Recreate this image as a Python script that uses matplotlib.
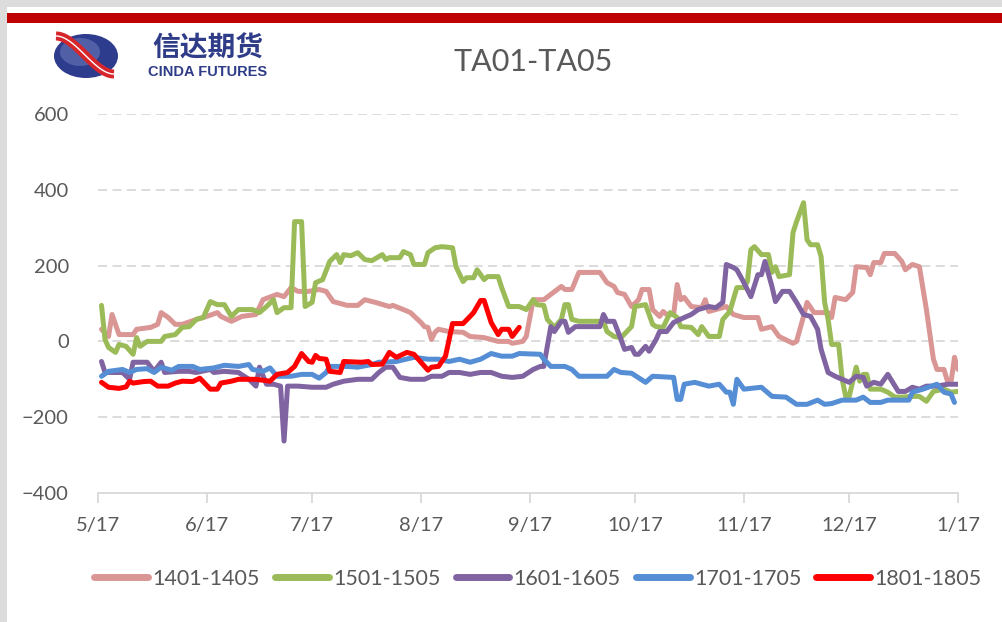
import numpy as np
import pandas as pd
import matplotlib
matplotlib.use("Agg")
import matplotlib.pyplot as plt
import matplotlib.patches as mpatches
import matplotlib.dates as mdates

# days counted from 5/17
d1401 = [1, 3, 4, 6, 10, 11, 15, 17, 18, 20, 22, 24, 28, 31, 34, 35, 38, 41, 45, 47, 51, 53, 55, 57, 60, 63, 65, 67,
         71, 74, 76, 79, 83, 84, 87, 89, 92, 93, 94, 95, 96, 97, 100, 104, 106, 110, 114, 117, 118, 121, 122, 124,
         127, 132, 133, 135, 137, 143, 145, 147, 148, 150, 152, 154, 155, 157, 158, 160, 161, 162, 164, 165, 166,
         167, 169, 172, 173, 174, 176, 179, 181, 184, 188, 189, 192, 194, 198, 199, 201, 202, 204, 208, 209, 210,
         213, 215, 216, 219, 220, 221, 223, 224, 227, 229, 230, 232, 234, 236, 238, 239, 241, 242, 243, 244, 245]
v1401 = [32, 13, 71, 18, 18, 32, 37, 45, 76, 63, 45, 45, 58, 66, 76, 66, 53, 66, 71, 110, 124, 118, 142, 132, 132,
         137, 132, 105, 95, 95, 110, 103, 92, 95, 84, 76, 50, 39, 37, 5, 24, 32, 26, 24, 13, 10, 0, 0, -5, 0, 13, 110,
         110, 145, 137, 137, 182, 182, 155, 145, 129, 124, 92, 110, 137, 137, 84, 66, 79, 71, 71, 150, 110, 116, 92,
         89, 110, 79, 84, 92, 71, 63, 63, 32, 39, 13, -5, 0, 66, 103, 76, 76, 63, 116, 110, 129, 197, 195, 176, 208,
         208, 232, 232, 211, 189, 203, 197, 84, -47, -74, -74, -105, -108, -42, -74]

d1501 = [1, 2, 3, 5, 6, 8, 10, 11, 12, 14, 18, 19, 22, 24, 26, 28, 30, 32, 34, 36, 38, 40, 44, 46, 48, 50, 51, 53,
         55, 56, 58, 59, 61, 62, 64, 66, 68, 69, 70, 72, 74, 76, 78, 81, 82, 83, 86, 87, 89, 90, 93, 94, 96, 98, 101,
         102, 104, 105, 107, 108, 110, 111, 114, 115, 117, 120, 122, 124, 125, 127, 128, 130, 132, 133, 134, 135,
         137, 144, 145, 147, 149, 152, 153, 156, 158, 159, 161, 163, 165, 166, 169, 171, 172, 174, 177, 178, 180,
         182, 184, 185, 186, 187, 189, 191, 192, 193, 194, 197, 198, 199, 201, 202, 203, 205, 206, 207, 208, 209,
         211, 212, 213, 214, 216, 217, 218, 219, 220, 223, 225, 227, 229, 232, 234, 236, 238, 241, 243, 245]
v1501 = [95, 5, -16, -29, -8, -13, -34, 10, -13, 0, 0, 13, 18, 37, 39, 58, 63, 105, 97, 97, 66, 84, 84, 76, 92, 110,
         76, 89, 89, 316, 316, 92, 103, 155, 163, 211, 229, 208, 229, 226, 234, 216, 213, 229, 216, 221, 221, 237,
         229, 203, 203, 234, 247, 250, 247, 197, 158, 168, 168, 189, 163, 171, 171, 142, 92, 92, 84, 110, 97, 95, 58,
         37, 58, 97, 97, 58, 53, 53, 26, 13, 10, 39, 92, 97, 45, 39, 37, 76, 63, 39, 37, 18, 39, 13, 13, 58, 79, 142,
         142, 158, 242, 250, 229, 229, 182, 197, 171, 176, 287, 316, 366, 268, 255, 255, 224, 103, 58, -8, -8, -100,
         -145, -145, -68, -105, -87, -87, -126, -126, -134, -147, -147, -145, -145, -158, -132, -126, -134, -132]

d1601 = [1, 2, 7, 9, 10, 14, 16, 18, 19, 23, 26, 28, 32, 33, 36, 40, 43, 45, 46, 48, 50, 52, 53, 54, 57, 61, 65, 67,
         70, 74, 78, 80, 82, 84, 86, 89, 93, 95, 98, 100, 103, 106, 109, 112, 115, 118, 121, 124, 126, 127, 128, 129,
         130, 132, 133, 134, 136, 143, 144, 145, 147, 149, 150, 152, 153, 154, 156, 157, 159, 160, 162, 164, 167,
         169, 171, 174, 176, 178, 179, 181, 182, 184, 186, 188, 189, 190, 192, 193, 195, 197, 199, 201, 203, 205,
         206, 208, 210, 212, 214, 216, 218, 219, 221, 223, 225, 228, 230, 232, 234, 236, 239, 242, 245]
v1601 = [-53, -82, -82, -100, -55, -55, -79, -55, -82, -79, -79, -82, -74, -82, -79, -82, -100, -118, -68, -113,
         -113, -118, -263, -118, -118, -121, -121, -113, -105, -100, -100, -82, -68, -68, -95, -100, -100, -92, -92,
         -82, -82, -87, -82, -82, -92, -95, -92, -74, -66, -66, -13, 39, 26, 53, 53, 24, 39, 39, 71, 53, 53, 5, -21,
         -16, -34, -34, -13, -26, 5, 26, 26, 50, 63, 71, 84, 92, 89, 103, 203, 195, 189, 155, 118, 176, 176, 211,
         145, 105, 132, 132, 103, 71, 66, 32, -21, -82, -92, -100, -108, -92, -95, -118, -108, -113, -87, -132,
         -132, -121, -126, -118, -118, -113, -113]

d1701 = [1, 3, 7, 9, 11, 14, 16, 18, 21, 23, 27, 29, 33, 36, 40, 43, 44, 47, 49, 51, 55, 58, 61, 63, 65, 66, 71, 74,
         78, 80, 85, 90, 94, 97, 100, 103, 106, 109, 112, 115, 118, 120, 126, 127, 129, 133, 135, 137, 145, 147, 149,
         152, 156, 158, 164, 165, 166, 167, 170, 172, 174, 177, 179, 180, 181, 182, 184, 189, 192, 196, 199, 202,
         205, 207, 209, 212, 216, 218, 220, 223, 225, 231, 232, 235, 239, 241, 243, 244]
v1701 = [-92, -79, -74, -82, -74, -72, -82, -68, -76, -66, -66, -74, -70, -63, -66, -61, -74, -79, -70, -92, -92, -87,
         -87, -97, -82, -66, -66, -68, -61, -55, -53, -42, -47, -47, -53, -47, -55, -47, -32, -39, -39, -32, -34, -47,
         -66, -66, -74, -92, -92, -74, -82, -84, -108, -92, -95, -153, -153, -113, -108, -113, -118, -113, -134, -134,
         -166, -100, -126, -121, -145, -147, -166, -166, -155, -166, -164, -155, -155, -147, -161, -161, -155, -155,
         -134, -126, -113, -134, -139, -161]

d1801 = [1, 3, 6, 8, 9, 10, 13, 15, 17, 20, 22, 24, 27, 29, 32, 34, 35, 38, 40, 43, 45, 49, 51, 54, 56, 58, 60, 61,
         62, 63, 65, 66, 69, 70, 75, 77, 78, 81, 83, 85, 88, 90, 92, 94, 95, 97, 99, 101, 104, 106, 107, 109, 110,
         112, 114, 115, 117, 118, 120]
v1801 = [-108, -121, -124, -120, -105, -110, -106, -105, -118, -118, -110, -105, -106, -97, -126, -126, -110, -105,
         -100, -100, -100, -105, -87, -82, -66, -32, -53, -55, -37, -45, -47, -79, -82, -53, -55, -53, -61, -60, -29,
         -42, -29, -34, -55, -76, -68, -66, -39, 47, 47, 66, 76, 108, 108, 50, 18, 32, 32, 13, 37]

series_names = ["1401-1405", "1501-1505", "1601-1605", "1701-1705", "1801-1805"]
series_days = [d1401, d1501, d1601, d1701, d1801]
series_vals = [v1401, v1501, v1601, v1701, v1801]
colors = ["#DA9694", "#9BBB59", "#8064A2", "#558ED5", "#FF0000"]

start = pd.Timestamp("2017-05-17")
month_ticks = pd.to_datetime(["2017-05-17", "2017-06-17", "2017-07-17", "2017-08-17", "2017-09-17",
                              "2017-10-17", "2017-11-17", "2017-12-17", "2018-01-17"])
yticks = [-400, -200, 0, 200, 400, 600]

text_color = "#595959"
font = "Lato"

W, H = 1002, 622
fig = plt.figure(figsize=(W / 100, H / 100), dpi=100)
fig.patch.set_facecolor("white")

# background layer in pixel units for the frame, band and logo
bg = fig.add_axes([0, 0, 1, 1], zorder=0)
bg.set_xlim(0, W)
bg.set_ylim(H, 0)
bg.axis("off")
bg.add_patch(mpatches.Rectangle((0, 0), 7, H, color="#DCDCDC", lw=0))
bg.add_patch(mpatches.Rectangle((0, 0), W, 7, color="#DCDCDC", lw=0))
bg.add_patch(mpatches.Rectangle((7, 13), W - 7, 10, color="#C00000", lw=0))

# logo
bg.add_patch(mpatches.Ellipse((86, 56), 64, 44, color="#2E3C8E", lw=0))
bg.add_patch(mpatches.Ellipse((80, 52), 40, 28, color="#6A78B8", lw=0, alpha=0.6))
t = np.linspace(0, 1, 60)
sx = 56 + 58 * t
sy = 36 + 38 * (3 * t ** 2 - 2 * t ** 3)
bg.plot(sx, sy, color="#D7262B", lw=6.5, solid_capstyle="butt")
bg.plot(sx, sy, color="white", lw=1.0, solid_capstyle="butt")
bg.text(208, 48, "信达期货", family=["Noto Sans CJK SC", "DejaVu Sans"], fontweight="bold",
        fontsize=20, color="#2F3C88", ha="center", va="center")
bg.text(208, 72, "CINDA FUTURES", family=["Liberation Sans Narrow", "Liberation Sans"], fontweight="bold",
        fontsize=10.5, color="#2F3C88", ha="center", va="center")

bg.text(533, 62, "TA01-TA05", family=font, fontsize=22, color=text_color,
        ha="center", va="center")

ax = fig.add_axes([98 / W, 1 - 493 / H, (958 - 98) / W, (493 - 114) / H], zorder=1)
ax.patch.set_alpha(0)

for name, days, vals, c in zip(series_names, series_days, series_vals, colors):
    dates = start + pd.to_timedelta(days, unit="D")
    ax.plot(dates, vals, color=c, lw=3.6, label=name, solid_joinstyle="round", solid_capstyle="round")

ax.set_xlim(start, start + pd.Timedelta(days=245))
ax.set_ylim(-400, 600)
ax.set_yticks(yticks)
ax.set_xticks(month_ticks)
ax.xaxis.set_major_formatter(plt.FuncFormatter(lambda x, p: "{}/{}".format(mdates.num2date(x).month,
                                                                           mdates.num2date(x).day)))
for y in yticks[1:]:
    ax.axhline(y, color="#D9D9D9", lw=1.3, dashes=(5, 3), zorder=0)

for s in ["top", "right", "left"]:
    ax.spines[s].set_visible(False)
ax.spines["bottom"].set_color("#D9D9D9")
ax.spines["bottom"].set_linewidth(1.3)
ax.tick_params(axis="x", length=7, width=1.3, color="#D9D9D9", pad=10, labelsize=14.5, labelcolor=text_color)
ax.tick_params(axis="y", length=0, pad=21, labelsize=14.5, labelcolor=text_color)
for lab in ax.get_xticklabels() + ax.get_yticklabels():
    lab.set_family(font)

leg = fig.legend(loc="center", bbox_to_anchor=(538 / W, 1 - 579 / H), ncol=5, frameon=False,
                 prop={"family": font, "size": 15.5}, handlelength=2.5, handletextpad=0.2,
                 columnspacing=0.7, labelcolor=text_color)
for line in leg.get_lines():
    line.set_linewidth(5)
    line.set_solid_capstyle("round")

fig.savefig("out.png", dpi=100, facecolor="white")
